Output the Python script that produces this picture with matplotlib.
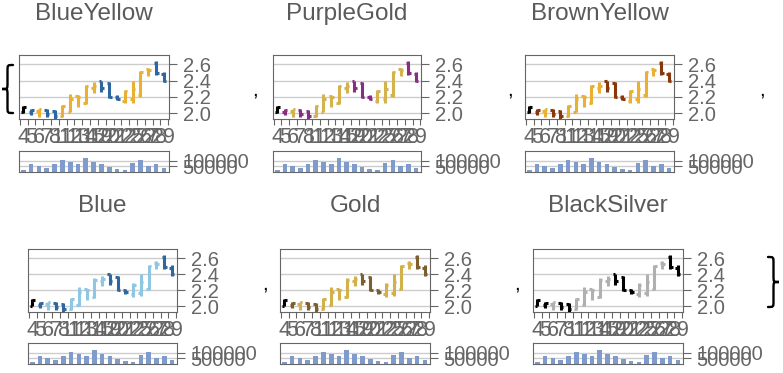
import matplotlib.pyplot as plt
from matplotlib.path import Path
from matplotlib.patches import PathPatch
from matplotlib.transforms import Affine2D

# trading days (January)
days = [4, 5, 6, 7, 8, 11, 12, 13, 14, 15, 19, 20, 21, 22, 25, 26, 27, 28, 29]
opens = [2.01, 2.02, 2.03, 2.04, 2.03, 1.97, 2.02, 2.21, 2.12, 2.31,
         2.40, 2.37, 2.20, 2.15, 2.17, 2.22, 2.54, 2.62, 2.48]
highs = [2.09, 2.05, 2.05, 2.05, 2.04, 2.10, 2.24, 2.22, 2.35, 2.38,
         2.40, 2.38, 2.22, 2.29, 2.40, 2.52, 2.56, 2.64, 2.51]
lows = [2.00, 1.98, 1.95, 1.96, 1.93, 1.96, 2.01, 2.08, 2.11, 2.25,
        2.26, 2.19, 2.16, 2.12, 2.13, 2.20, 2.46, 2.47, 2.38]
closes = [2.08, 2.04, 2.05, 1.99, 1.97, 2.09, 2.18, 2.20, 2.33, 2.34,
          2.31, 2.20, 2.18, 2.27, 2.30, 2.50, 2.53, 2.49, 2.40]
volumes = [15000, 68000, 50000, 32000, 76000, 112000, 94000, 76000, 129000, 94000,
           68000, 41000, 24000, 15000, 85000, 112000, 50000, 76000, 32000]

schemes = ["BlueYellow", "PurpleGold", "BrownYellow", "Blue", "Gold", "BlackSilver"]
up_colors = ["#E9B031", "#D4B24E", "#E9B031", "#8DC7E3", "#D3B149", "#B0B0B0"]
down_colors = ["#2E67A0", "#872D82", "#87370A", "#2E67A0", "#7D5F2D", "#000000"]

W, H = 783, 373
GRAY = "#666666"
fig = plt.figure(figsize=(W / 100, H / 100), dpi=100)
plt.rcParams["font.family"] = ["Liberation Sans", "DejaVu Sans"]


def box(x0, x1, y0, y1):
    return [x0 / W, 1 - y1 / H, (x1 - x0) / W, (y1 - y0) / H]


def style_axes(ax):
    for sp in ax.spines.values():
        sp.set_color(GRAY)
        sp.set_linewidth(0.8)
    ax.yaxis.tick_right()
    ax.tick_params(axis="y", direction="out", length=5.5, width=0.8, color=GRAY,
                   pad=4.3, labelsize=14.5, labelcolor=GRAY)
    ax.grid(axis="y", color="#cccccc", lw=1)
    ax.set_axisbelow(True)


# (left, right, top, bottom, vol_top, vol_bottom) in pixels
layout = [
    (19, 169, 55, 119, 151, 172),
    (273, 421, 55, 119, 151, 172),
    (525, 674, 55, 119, 151, 172),
    (28, 177, 249, 312, 343, 364),
    (280, 430, 249, 312, 343, 364),
    (533, 683, 249, 312, 343, 364),
]

n = len(days)
xs = list(range(n))
for k, name in enumerate(schemes):
    x0, x1, t, b, vt, vb = layout[k]
    ax = fig.add_axes(box(x0, x1, t, b))
    for i in xs:
        if i == 0:
            c = "black"
        elif closes[i] >= closes[i - 1]:
            c = up_colors[k]
        else:
            c = down_colors[k]
        ax.vlines(i, lows[i], highs[i], color=c, lw=2.2)
        ax.hlines(opens[i], i - 0.32, i, color=c, lw=2.2)
        ax.hlines(closes[i], i, i + 0.32, color=c, lw=2.2)
    ax.set_xlim(-0.55, 18.65)
    ax.set_ylim(1.93, 2.714)
    ax.set_yticks([2.0, 2.2, 2.4, 2.6])
    ax.set_yticklabels(["2.0", "2.2", "2.4", "2.6"])
    style_axes(ax)
    ax.set_xticks([i - 0.45 for i in range(n + 1)])
    ax.set_xticklabels([])
    ax.set_xticks(xs, minor=True)
    ax.set_xticklabels([str(d) for d in days], minor=True,
                       family=["Liberation Sans Narrow", "Liberation Sans"])
    ax.tick_params(axis="x", which="major", direction="out", length=4.3,
                   width=0.8, color=GRAY)
    ax.tick_params(axis="x", which="minor", length=0, pad=6.0,
                   labelsize=15.5, labelcolor=GRAY)

    fig.text((x0 + x1) / 2 / W, 1 - (14 if k < 3 else 206) / H, name,
             ha="center", va="center", fontsize=17.5, color="#5a5a5a")

    vax = fig.add_axes(box(x0, x1, vt, vb))
    vax.bar(xs, volumes, width=0.6, color="#7E9BCC")
    vax.set_xlim(-0.55, 18.65)
    vax.set_ylim(0, 190000)
    vax.set_xticks([])
    vax.set_yticks([50000, 100000])
    vax.set_yticklabels(["50000", "100000"])
    style_axes(vax)

# commas between the charts
for cx, cy in [(255, 96), (510, 96), (762, 96), (265, 290), (517, 290)]:
    fig.text(cx / W, 1 - cy / H, ",", ha="center", va="baseline",
             fontsize=15, color="black")


def brace(x0, x1, y0, y1, left=True):
    yt, yb = H - y0, H - y1
    ym = (yt + yb) / 2
    xm = (x0 + x1) / 2
    r = (x1 - x0) * 0.55
    outer, tip = (x1, x0) if left else (x0, x1)
    verts = [(outer, yt), (xm, yt), (xm, yt), (xm, yt - r),
             (xm, ym + r), (xm, ym), (xm, ym), (tip, ym),
             (xm, ym), (xm, ym), (xm, ym - r),
             (xm, yb + r), (xm, yb), (xm, yb), (outer, yb)]
    codes = [Path.MOVETO, Path.CURVE4, Path.CURVE4, Path.CURVE4,
             Path.LINETO, Path.CURVE4, Path.CURVE4, Path.CURVE4,
             Path.CURVE4, Path.CURVE4, Path.CURVE4,
             Path.LINETO, Path.CURVE4, Path.CURVE4, Path.CURVE4]
    tr = Affine2D().scale(1 / W, 1 / H) + fig.transFigure
    fig.add_artist(PathPatch(Path(verts, codes), transform=tr, fill=False,
                             lw=1.7, edgecolor="black", capstyle="round"))


brace(2, 13, 65, 113, left=True)
brace(768, 779, 257, 307, left=False)

fig.savefig("out.png", dpi=100)
